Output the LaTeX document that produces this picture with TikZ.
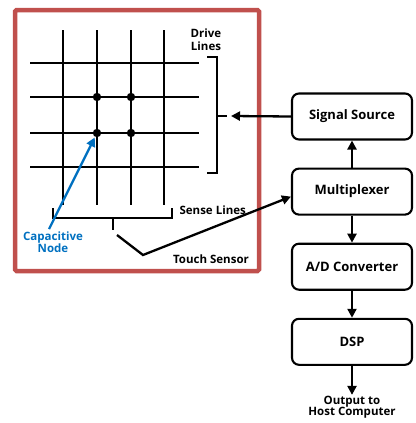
\documentclass[tikz,border=0pt]{standalone}
\usepackage{fontspec}
\setmainfont{Open Sans}
\usetikzlibrary{arrows.meta, positioning}
\definecolor{frameRed}{RGB}{192,80,77}
\definecolor{nodeBlue}{RGB}{0,112,192}
\newcommand\Lbl{\bfseries\fontsize{11.5}{12.5}\selectfont}

\begin{document}
\begin{tikzpicture}[x=1pt, y=-1pt, line width=2.5pt,
    block/.style={draw, rounded corners=7pt, minimum width=120pt, minimum height=46pt, line width=2.1pt, font=\bfseries\fontsize{13}{14}\selectfont},
    arr/.style={-{Triangle[length=9pt,width=9pt]}, line width=2.3pt},
    node distance=27pt]
                \useasboundingbox (0,0) rectangle (415,423);
                \draw[frameRed, line width=4.5pt, rounded corners=1.5pt] (15,10) rectangle (259,271);

                % sensor grid
                \foreach \p in {63,97,131,164}{
                  \draw (\p,30) -- (\p,205);
                }
                \foreach \p in {63,97,133,167}{
                  \draw (30,\p) -- (199,\p);
                }
                \foreach \x in {97,131}{
                  \foreach \y in {97,133}{
                    \fill (\x,\y) circle (4.2pt);
                  }
                }
                \coordinate (cap) at (97,133);

                % brackets
                \draw (207,57) -- (217,57) -- (217,173) -- (207,173);
                \draw (217,116) -- (227,116) coordinate (drv);
                \draw (53,208) -- (53,218) -- (172,218) -- (172,208);
                \draw (113,218) -- (113,230);
                \coordinate (sen) at (117,235);
                \coordinate (bend) at (143,255);

                \node[align=center, font=\Lbl] (drvTxt) at (206,39.5) {Drive\\Lines};
                \node[anchor=west, font=\Lbl] (senTxt) at (175,210) {Sense Lines};
                \node[font=\Lbl] (tchTxt) at (211,259) {Touch Sensor};
                \node[align=center, text=nodeBlue, font=\Lbl, inner sep=1pt] (capTxt) at (53,242) {Capacitive\\Node};

                % signal chain
                \node[block] (src) at (352,116.5) {Signal Source};
                \node[block, below=of src] (mux) {Multiplexer};
                \node[block, below=of mux] (adc) {A/D Converter};
                \node[block, below=of adc] (dsp) {DSP};
                \node[align=center, font=\bfseries\fontsize{11.5}{11.5}\selectfont, below=29pt of dsp, inner sep=0pt] (out) {Output to\\Host Computer};

                \draw[arr] (src.west) -- ([xshift=4pt]drv);
                \draw[arr] (mux) -- (src);
                \draw[arr] (mux) -- (adc);
                \draw[arr] (adc) -- (dsp);
                \draw[arr] (dsp) -- (out);
                \draw[arr] (sen) -- (bend) -- ([yshift=-5pt]mux.west);
                \draw[arr, nodeBlue, shorten >=5pt] ([xshift=-4pt]capTxt.north) -- (cap);
\end{tikzpicture}
\end{document}
